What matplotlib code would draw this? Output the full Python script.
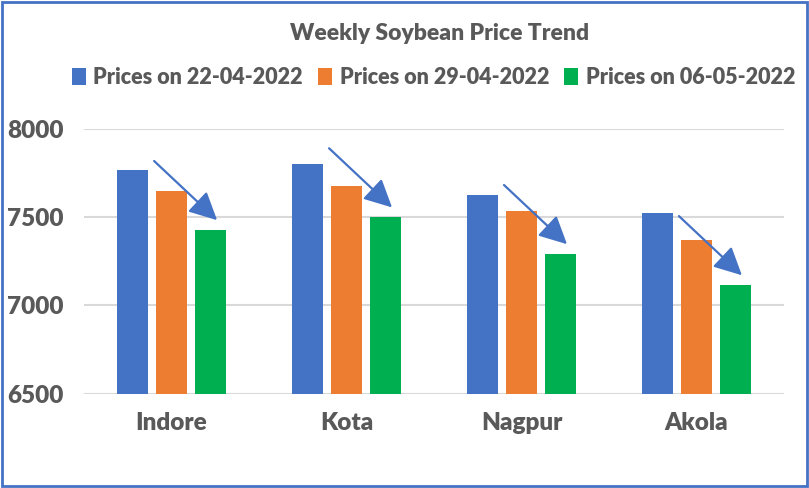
import matplotlib.pyplot as plt
import numpy as np
from matplotlib.patches import FancyArrowPatch, Rectangle

# Dados do gráfico
cidades = ["Indore", "Kota", "Nagpur", "Akola"]
precos_22_04 = [7766, 7802, 7624, 7522]
precos_29_04 = [7649, 7677, 7535, 7371]
precos_06_05 = [7428, 7500, 7292, 7116]
rotulos_series = ["Prices on 22-04-2022", "Prices on 29-04-2022", "Prices on 06-05-2022"]
cores = ["#4472C4", "#ED7D31", "#00B050"]
ticks_y = [6500, 7000, 7500, 8000]

cinza = "#595959"
plt.rcParams["font.family"] = ["Lato", "DejaVu Sans"]

fig = plt.figure(figsize=(8.09, 4.88), dpi=100)
ax = fig.add_axes([0.104, 0.193, 0.865, 0.543])

x = np.arange(len(cidades))
passo = 0.223
largura = 0.177
series = [precos_22_04, precos_29_04, precos_06_05]
for k, (valores, cor, rotulo) in enumerate(zip(series, cores, rotulos_series)):
    ax.bar(x + (k - 1) * passo, np.array(valores) - 6500, bottom=6500,
           width=largura, color=cor, label=rotulo, zorder=3)

# Setas de tendência
for i in range(len(cidades)):
    fim_y = precos_06_05[i] + 55
    seta = FancyArrowPatch((i - 0.10, fim_y + 335), (i + 0.26, fim_y),
                           arrowstyle="-|>,head_length=17,head_width=8.5",
                           mutation_scale=1, color="#4472C4", lw=1.6,
                           shrinkA=0, shrinkB=0, zorder=4)
    ax.add_patch(seta)

ax.set_xlim(-0.5, 3.5)
ax.set_ylim(6500, 8000)
ax.set_yticks(ticks_y)
ax.set_xticks(x)
ax.set_xticklabels(cidades)
ax.grid(axis="y", color="#D9D9D9", lw=1.5, zorder=0)
for lado in ax.spines.values():
    lado.set_visible(False)
ax.tick_params(axis="both", length=0, labelsize=17.5, labelcolor=cinza)
ax.tick_params(axis="y", pad=15)
ax.tick_params(axis="x", pad=13)
for t in ax.get_xticklabels() + ax.get_yticklabels():
    t.set_fontweight("heavy")

fig.text(0.543, 0.932, "Weekly Soybean Price Trend", ha="center", va="center",
         fontsize=16.5, fontweight="heavy", color=cinza)

leg = fig.legend(loc="center", bbox_to_anchor=(0.536, 0.842), ncol=3,
                 frameon=False, handlelength=0.65, handleheight=0.85,
                 handletextpad=0.35, columnspacing=0.7,
                 prop={"size": 15.5, "weight": "heavy"})
for t in leg.get_texts():
    t.set_color(cinza)

# Moldura azul
fig.patches.append(Rectangle((0.003, 0.004), 0.994, 0.992, transform=fig.transFigure,
                             fill=False, edgecolor="#4472C4", lw=2))

fig.savefig("out.png", dpi=100)
